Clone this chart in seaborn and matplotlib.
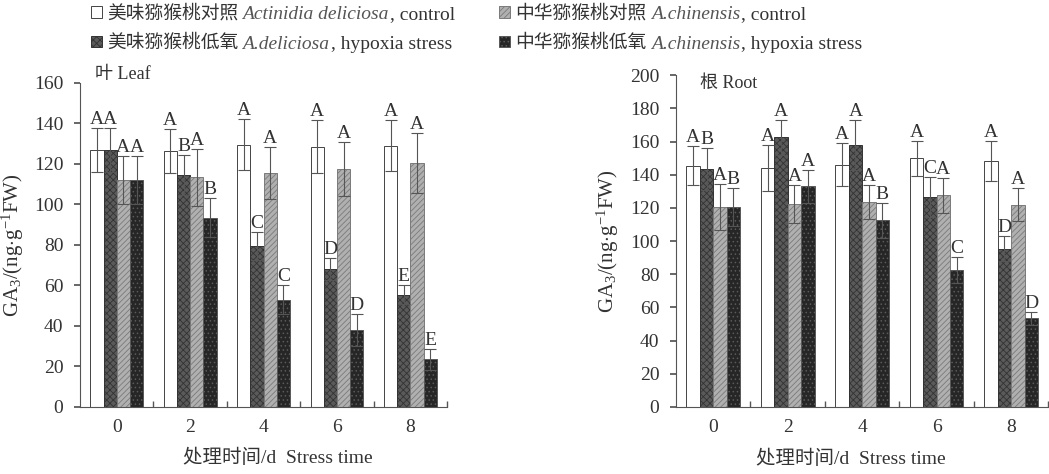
import matplotlib
matplotlib.use('Agg')
import matplotlib.pyplot as plt
import seaborn as sns
import pandas as pd
from matplotlib.patches import Patch
from matplotlib.transforms import IdentityTransform

# categories
days = ['0', '2', '4', '6', '8']
groups = ['del_ctrl', 'del_hyp', 'chi_ctrl', 'chi_hyp']
legend_cn = ['美味猕猴桃对照', '美味猕猴桃低氧', '中华猕猴桃对照', '中华猕猴桃低氧']
legend_it = ['Actinidia deliciosa', 'A.deliciosa', 'A.chinensis', 'A.chinensis']
legend_rm = [', control', ', hypoxia stress', ', control', ', hypoxia stress']

# leaf GA3 (ng/g FW)
leaf_del_ctrl = [127, 126.5, 129.5, 128.5, 129]
leaf_del_hyp = [127, 114.5, 79.5, 68, 55.5]
leaf_chi_ctrl = [112, 113.5, 115.5, 117.5, 120.5]
leaf_chi_hyp = [112, 93.5, 53, 38, 23.5]
leaf_err_del_ctrl = [11, 11, 12.5, 13, 12.5]
leaf_err_del_hyp = [11, 10, 7, 5.5, 4.5]
leaf_err_chi_ctrl = [12, 14, 13, 13.5, 15]
leaf_err_chi_hyp = [12, 9.5, 7, 8, 5]
leaf_let_del_ctrl = ['A', 'A', 'A', 'A', 'A']
leaf_let_del_hyp = ['A', 'B', 'C', 'D', 'E']
leaf_let_chi_ctrl = ['A', 'A', 'A', 'A', 'A']
leaf_let_chi_hyp = ['A', 'B', 'C', 'D', 'E']

# root GA3 (ng/g FW)
root_del_ctrl = [145.5, 144, 146, 150, 148.5]
root_del_hyp = [143.5, 162.5, 158, 126.5, 95.5]
root_chi_ctrl = [120.5, 122.5, 123.5, 127.5, 122]
root_chi_hyp = [120.5, 133, 112.5, 82.5, 53.5]
root_err_del_ctrl = [12, 14, 13, 10.5, 12]
root_err_del_hyp = [12.5, 10.5, 15, 12, 7.5]
root_err_chi_ctrl = [14, 11.5, 10, 10.5, 10]
root_err_chi_hyp = [11.5, 10, 10.5, 8, 4]
root_let_del_ctrl = ['A', 'A', 'A', 'A', 'A']
root_let_del_hyp = ['B', 'A', 'A', 'C', 'D']
root_let_chi_ctrl = ['A', 'A', 'A', 'A', 'A']
root_let_chi_hyp = ['B', 'A', 'B', 'C', 'D']

sns.set_theme(style='ticks')
plt.rcParams['font.family'] = ['Liberation Serif', 'Noto Sans CJK SC']
plt.rcParams['mathtext.fontset'] = 'custom'
plt.rcParams['mathtext.rm'] = 'Liberation Serif'
plt.rcParams['mathtext.it'] = 'Liberation Serif:italic'
plt.rcParams['hatch.linewidth'] = 0.6
txt = '#333333'

face = {'del_ctrl': '#ffffff', 'del_hyp': '#5a5a5a', 'chi_ctrl': '#b0b0b0', 'chi_hyp': '#262626'}
hatch = {'del_ctrl': '', 'del_hyp': 'xxxxx', 'chi_ctrl': '//////', 'chi_hyp': '....'}
edge = {'del_ctrl': '#444444', 'del_hyp': '#333333', 'chi_ctrl': '#7a7a7a', 'chi_hyp': '#5a5a5a'}


def make_df(vals):
    rows = []
    for g, v in zip(groups, vals):
        for d, y in zip(days, v):
            rows.append({'day': d, 'group': g, 'ga3': y})
    return pd.DataFrame(rows)


def panel(ax, vals, errs, lets, ymax, step, title, title_xy, xlab_x):
    df = make_df(vals)
    sns.barplot(data=df, x='day', y='ga3', hue='group', order=days, hue_order=groups,
                palette=face, width=0.72, legend=False, ax=ax, errorbar=None)
    for g, cont, err, let in zip(groups, ax.containers, errs, lets):
        for bar, e, l in zip(cont, err, let):
            bar.set_hatch(hatch[g])
            bar.set_edgecolor(edge[g])
            bar.set_linewidth(0.7)
            cx = bar.get_x() + bar.get_width() / 2
            h = bar.get_height()
            ax.errorbar(cx, h, yerr=e, color='#555555', lw=0.8, capsize=4.5, capthick=0.8)
            ax.text(cx, h + e, l, ha='center', va='bottom', fontsize=14, color=txt)
    ax.set_xlim(-0.5, 4.5)
    ax.set_ylim(0, ymax)
    ax.set_yticks(range(0, ymax + 1, step))
    ax.set_xticks([0.5, 1.5, 2.5, 3.5, 4.5], minor=True)
    ax.tick_params(axis='x', which='major', length=0, labelsize=14, colors=txt, pad=9)
    ax.tick_params(axis='x', which='minor', direction='in', length=4, color='#555555')
    ax.tick_params(axis='y', length=4, labelsize=14, colors=txt, color='#555555', pad=8)
    sns.despine(ax=ax)
    for s in ['left', 'bottom']:
        ax.spines[s].set_color('#555555')
        ax.spines[s].set_linewidth(0.8)
    ax.set_xlabel('处理时间/d  Stress time', fontsize=14, color=txt)
    ax.xaxis.set_label_coords(xlab_x, -0.13)
    ax.set_ylabel(r'GA$_3$/(ng$\cdot$g$^{-1}$FW)', fontsize=15, color=txt, labelpad=6)
    ax.text(title_xy[0], title_xy[1], title, transform=ax.transAxes, fontsize=13,
            color=txt, va='center')


fig = plt.figure(figsize=(10.49, 4.74), dpi=100)
ax1 = fig.add_axes([0.0763, 0.1414, 0.350, 0.6835])
ax2 = fig.add_axes([0.6444, 0.1414, 0.355, 0.700])

panel(ax1, [leaf_del_ctrl, leaf_del_hyp, leaf_chi_ctrl, leaf_chi_hyp],
      [leaf_err_del_ctrl, leaf_err_del_hyp, leaf_err_chi_ctrl, leaf_err_chi_hyp],
      [leaf_let_del_ctrl, leaf_let_del_hyp, leaf_let_chi_ctrl, leaf_let_chi_hyp],
      160, 20, '叶 Leaf', (0.04, 1.025), 0.54)
panel(ax2, [root_del_ctrl, root_del_hyp, root_chi_ctrl, root_chi_hyp],
      [root_err_del_ctrl, root_err_del_hyp, root_err_chi_ctrl, root_err_chi_hyp],
      [root_let_del_ctrl, root_let_del_hyp, root_let_chi_ctrl, root_let_chi_hyp],
      200, 20, '根 Root', (0.065, 0.975), 0.47)

# legend: one column per species, Latin part appended after the Chinese label
handles = [Patch(facecolor=face[g], edgecolor=edge[g], hatch=hatch[g], linewidth=0.7) for g in groups]
legs = []
for k, x0 in enumerate([0.071, 0.460]):
    leg = fig.legend(handles[2 * k:2 * k + 2], legend_cn[2 * k:2 * k + 2], loc='upper left',
                     bbox_to_anchor=(x0, 1.025), frameon=False, fontsize=13.5,
                     handlelength=0.55, handleheight=0.55, handletextpad=0.3,
                     labelspacing=0.65, labelcolor=txt)
    legs.append(leg)

fig.canvas.draw()
r = fig.canvas.get_renderer()
k = 0
for leg in legs:
    for t in leg.get_texts():
        bb = t.get_window_extent(r)
        yc = (bb.y0 + bb.y1) / 2 - 1
        it = fig.text(bb.x1 + 4, yc, legend_it[k], style='italic', fontsize=14, color='#555555',
                      va='center', transform=IdentityTransform())
        bb2 = it.get_window_extent(r)
        fig.text(bb2.x1 + 1, yc, legend_rm[k], fontsize=14, color=txt,
                 va='center', transform=IdentityTransform())
        k += 1

fig.savefig('out.png', dpi=100)
